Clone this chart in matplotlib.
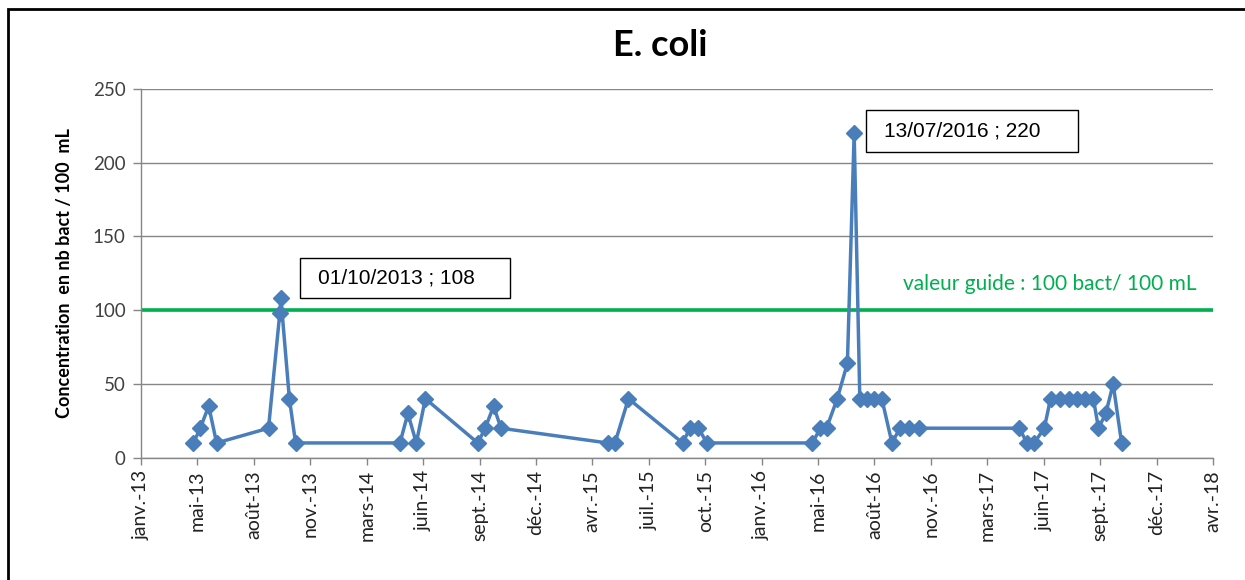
import datetime as dt

import matplotlib
matplotlib.use("Agg")
import matplotlib.pyplot as plt
from matplotlib.patches import Rectangle

# mesures E. coli (date, nb bact / 100 mL)
dates = [
    "2013-04-29", "2013-05-11", "2013-05-26", "2013-06-09", "2013-09-09",
    "2013-09-29", "2013-10-01", "2013-10-16", "2013-10-27",
    "2014-04-30", "2014-05-14", "2014-05-29", "2014-06-14",
    "2014-09-15", "2014-09-28", "2014-10-13", "2014-10-26",
    "2015-05-03", "2015-05-16", "2015-06-09",
    "2015-09-13", "2015-09-26", "2015-10-11", "2015-10-26",
    "2016-04-30", "2016-05-14", "2016-05-25", "2016-06-13", "2016-07-01",
    "2016-07-13", "2016-07-23", "2016-08-05", "2016-08-18", "2016-08-31",
    "2016-09-18", "2016-10-02", "2016-10-19", "2016-11-05",
    "2017-05-02", "2017-05-15", "2017-05-28", "2017-06-15",
    "2017-06-26", "2017-07-13", "2017-07-28", "2017-08-12", "2017-08-26",
    "2017-09-10", "2017-09-19", "2017-10-02", "2017-10-15", "2017-10-30",
]
values = [
    10, 20, 35, 10, 20,
    98, 108, 40, 10,
    10, 30, 10, 40,
    10, 20, 35, 20,
    10, 10, 40,
    10, 20, 20, 10,
    10, 20, 20, 40, 64,
    220, 40, 40, 40, 40,
    10, 20, 20, 20,
    20, 10, 10, 20,
    40, 40, 40, 40, 40,
    40, 20, 30, 50, 10,
]
guide_value = 100
mois = ["janv.", "févr.", "mars", "avr.", "mai", "juin",
        "juil.", "août", "sept.", "oct.", "nov.", "déc."]

x = [dt.datetime.strptime(d, "%Y-%m-%d") for d in dates]

W, H = 1245, 580
fig = plt.figure(figsize=(W / 100, H / 100), dpi=100)
ax = fig.add_axes([141 / W, 1 - 457.7 / H, (1213 - 141) / W, (457.7 - 89) / H])

# cadre du graphique
fig.patches.append(Rectangle((8 / W, -0.1), 1.2, 1.1 - 8.5 / H, transform=fig.transFigure,
                             fill=False, edgecolor="black", linewidth=2))

ax.plot(x, values, color="#4A7EBB", linewidth=2.5, marker="D", markersize=8,
        markerfacecolor="#4A7EBB", markeredgecolor="#4A7EBB", zorder=3)
ax.axhline(guide_value, color="#00B050", linewidth=2.6, zorder=2)

start = dt.datetime(2013, 1, 26)
ticks = [start + dt.timedelta(days=100 * i) for i in range(20)]
ax.set_xlim(ticks[0], ticks[-1])
ax.set_xticks(ticks)
ax.set_xticklabels([f"{mois[t.month - 1]}-{t.strftime('%y')}" for t in ticks],
                   rotation=90, fontsize=14, family="Lato", color="#222222")
ax.set_ylim(0, 250)
ax.set_yticks(range(0, 251, 50))
ax.tick_params(axis="y", labelsize=13.5, colors="#404040", length=6, width=1,
               color="#868686", pad=5)
ax.tick_params(axis="x", length=5, width=1, color="#868686", pad=4)
for lab in ax.get_yticklabels():
    lab.set_family("Lato")
ax.grid(axis="y", color="#868686", linewidth=1)
ax.set_axisbelow(True)
for side in ("top", "right"):
    ax.spines[side].set_visible(False)
for side in ("left", "bottom"):
    ax.spines[side].set_color("#868686")
    ax.spines[side].set_linewidth(1)

ax.set_ylabel("Concentration  en nb bact / 100  mL", fontsize=13, fontweight="bold",
              family="Lato", labelpad=14)
fig.text(660 / W, 1 - 45 / H, "E. coli", ha="center", va="center",
         fontsize=26, fontweight="bold", family="Lato")

ax.text(0.985, (guide_value + 18) / 250, "valeur guide : 100 bact/ 100 mL",
        transform=ax.transAxes, ha="right", va="center", color="#00B050",
        fontsize=15, family="Lato")

# étiquettes des pics
for (x0, y0, x1, y1), label in (
    ((300, 258, 510, 298), "01/10/2013 ; 108"),
    ((866, 110, 1078, 152), "13/07/2016 ; 220"),
):
    fig.patches.append(Rectangle((x0 / W, 1 - y1 / H), (x1 - x0) / W, (y1 - y0) / H,
                                 transform=fig.transFigure, facecolor="white",
                                 edgecolor="black", linewidth=1, zorder=5))
    fig.text((x0 + 18) / W, 1 - (y0 + y1) / 2 / H, label, ha="left", va="center",
             fontsize=15, family="Liberation Sans", zorder=6)

fig.savefig("out.png", dpi=100)
